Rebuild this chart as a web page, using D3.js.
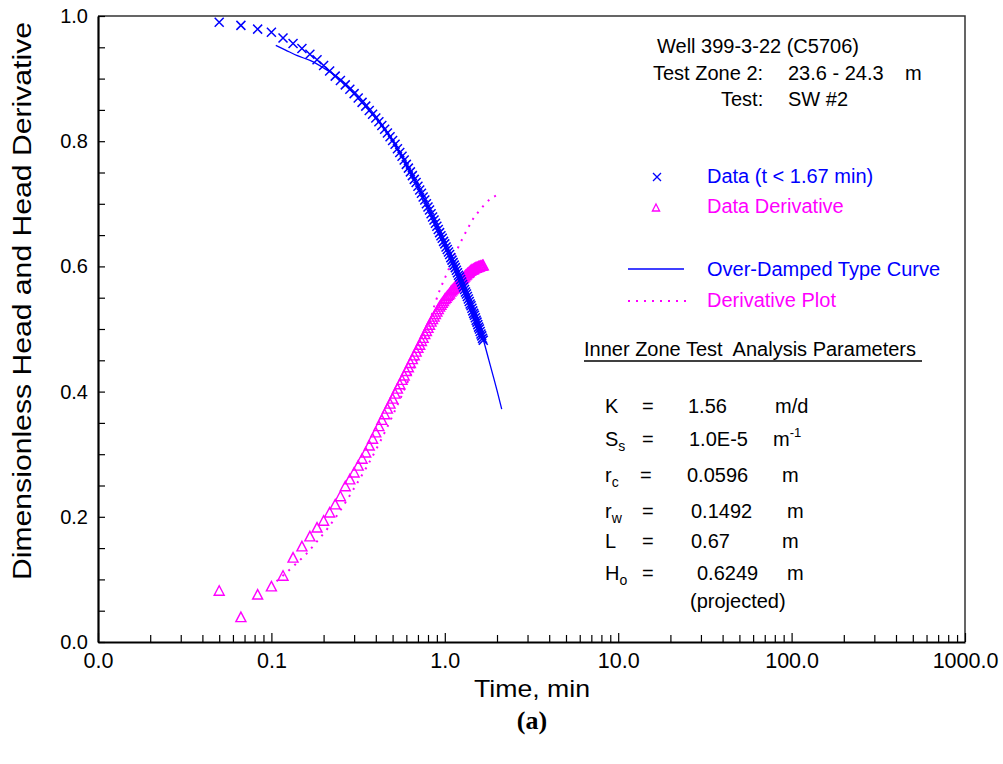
<!DOCTYPE html>
<html><head><meta charset="utf-8">
<script src="https://cdn.jsdelivr.net/npm/d3@7"></script>
<style>
body{margin:0;background:#fff;}
svg{display:block;font-family:"Liberation Sans",Arial,sans-serif;}
</style></head>
<body><svg id="c" width="1003" height="764"></svg>
<script>
// ---- data (time in minutes) ----
const timeMin = [0.05,0.0667,0.0833,0.1,0.1167,0.1333,0.15,0.1667,0.1833,0.2,
0.2167,0.2333,0.25,0.2667,0.2833,0.3,0.3167,0.3333,0.35,0.3667,
0.3833,0.4,0.4167,0.4333,0.45,0.4667,0.4833,0.5,0.5167,0.5333,
0.55,0.5667,0.5833,0.6,0.6167,0.6333,0.65,0.6667,0.6833,0.7,
0.7167,0.7333,0.75,0.7667,0.7833,0.8,0.8167,0.8333,0.85,0.8667,
0.8833,0.9,0.9167,0.9333,0.95,0.9667,0.9833,1.0,1.0167,1.0333,
1.05,1.0667,1.0833,1.1,1.1167,1.1333,1.15,1.1667,1.1833,1.2,
1.2167,1.2333,1.25,1.2667,1.2833,1.3,1.3167,1.3333,1.35,1.3667,
1.3833,1.4,1.4167,1.4333,1.45,1.4667,1.4833,1.5,1.5167,1.5333,
1.55,1.5667,1.5833,1.6,1.6167,1.6333,1.65,1.6667];
const headData = [0.990,0.985,0.979,0.974,0.965,0.956,0.948,0.939,0.930,0.921,
0.912,0.904,0.897,0.890,0.883,0.876,0.869,0.862,0.856,0.849,
0.843,0.837,0.831,0.825,0.819,0.813,0.807,0.801,0.795,0.788,
0.782,0.776,0.770,0.763,0.757,0.751,0.745,0.739,0.734,0.728,
0.722,0.717,0.711,0.706,0.700,0.695,0.690,0.684,0.679,0.674,
0.669,0.664,0.659,0.654,0.649,0.645,0.640,0.636,0.631,0.627,
0.623,0.619,0.614,0.610,0.606,0.602,0.598,0.594,0.590,0.586,
0.583,0.579,0.575,0.571,0.567,0.563,0.559,0.556,0.552,0.548,
0.544,0.540,0.537,0.533,0.529,0.525,0.522,0.518,0.514,0.511,
0.507,0.503,0.500,0.496,0.492,0.489,0.485,0.482];
const derivData = [0.081,0.039,0.075,0.088,0.105,0.134,0.152,0.168,0.182,0.193,
0.206,0.219,0.232,0.248,0.259,0.270,0.281,0.292,0.302,0.313,
0.324,0.334,0.344,0.354,0.363,0.372,0.380,0.388,0.396,0.404,
0.411,0.418,0.425,0.432,0.438,0.445,0.451,0.457,0.463,0.469,
0.474,0.480,0.485,0.491,0.496,0.501,0.506,0.511,0.515,0.519,
0.523,0.527,0.531,0.535,0.538,0.541,0.544,0.547,0.549,0.552,
0.554,0.556,0.559,0.561,0.563,0.565,0.567,0.569,0.571,0.573,
0.575,0.577,0.578,0.580,0.581,0.583,0.585,0.586,0.588,0.589,
0.590,0.592,0.593,0.594,0.594,0.595,0.596,0.597,0.597,0.598,
0.598,0.599,0.599,0.600,0.600,0.600,0.601,0.601];
const typeT = [0.106,0.12,0.14,0.167,0.2,0.25,0.3,0.35,0.4,0.5,0.6,0.7,0.8,0.9,1.0,1.1,1.2,1.3,1.4,1.5,1.67,1.8,1.9,2.0,2.13];
const typeH = [0.953,0.946,0.937,0.929,0.917,0.899,0.879,0.859,0.840,0.801,0.764,0.728,0.695,0.664,0.636,0.610,0.586,0.563,0.540,0.518,0.482,0.449,0.425,0.402,0.372];
const dplotT = [0.107,0.14,0.158,0.181,0.209,0.24,0.269,0.296,0.355,0.427,0.501,0.603,0.708,0.794,0.877,0.938,1.0,1.047,1.12,1.197,1.267,1.384,1.472,1.596,1.706,1.862,2.08];
const dplotV = [0.097,0.126,0.140,0.159,0.180,0.203,0.224,0.243,0.280,0.322,0.362,0.412,0.458,0.498,0.540,0.563,0.581,0.594,0.615,0.631,0.645,0.665,0.678,0.690,0.700,0.709,0.716];
const xTickLabels = ["0.0","0.1","1.0","10.0","100.0","1000.0"];
const xDecades = [0.01,0.1,1,10,100,1000];
const yTickLabels = ["0.0","0.2","0.4","0.6","0.8","1.0"];
const yLabelVals = [0,0.2,0.4,0.6,0.8,1.0];
const wellLines = ["Well 399-3-22 (C5706)"];

const BLUE="#0000ff", MAG="#ff00ff";
const svg = d3.select("#c");
const L=98,R=965,T=16,B=642;
const x = d3.scaleLog().domain([0.01,1000]).range([L,R]);
const y = d3.scaleLinear().domain([0,1]).range([B,T]);

// frame (top/right)
svg.append("path").attr("d",`M${L},${T}H${R}V${B}`).attr("fill","none").attr("stroke","#333").attr("stroke-width",1.5);

// x axis
const xTicks=[];
for(const d of [0.01,0.1,1,10,100]) for(let k=1;k<10;k++) xTicks.push(+(d*k).toPrecision(3));
xTicks.push(1000);
const xAx = d3.axisBottom(x).tickValues(xTicks).tickSizeInner(-7).tickSizeOuter(0).tickPadding(11)
  .tickFormat(d=>{const i=xDecades.findIndex(v=>Math.abs(v-d)<1e-9);return i>=0?xTickLabels[i]:"";});
const gx = svg.append("g").attr("transform",`translate(0,${B})`).call(xAx);
gx.select(".domain").attr("stroke","#000").attr("stroke-width",2.2);
gx.selectAll(".tick line").attr("stroke","#000").attr("stroke-width",1.2)
  .attr("y2",d=>xDecades.some(v=>Math.abs(v-d)<1e-9)?-9:-7);
gx.selectAll(".tick text").attr("font-size",21.5).attr("fill","#000").attr("font-family","Liberation Sans, Arial");

// y axis
const yTicks=[]; for(let i=0;i<=20;i++) yTicks.push(+(i*0.05).toFixed(2));
const yAx = d3.axisLeft(y).tickValues(yTicks).tickSizeInner(-7).tickSizeOuter(0).tickPadding(10)
  .tickFormat(d=>{const i=yLabelVals.findIndex(v=>Math.abs(v-d)<1e-9);return i>=0?yTickLabels[i]:"";});
const gy = svg.append("g").attr("transform",`translate(${L},0)`).call(yAx);
gy.select(".domain").attr("stroke","#000").attr("stroke-width",2.2);
gy.selectAll(".tick line").attr("stroke","#000").attr("stroke-width",1.2);
gy.selectAll(".tick text").attr("font-size",20).attr("fill","#000").attr("font-family","Liberation Sans, Arial");

// axis titles
svg.append("text").attr("transform","translate(31,301) rotate(-90)").attr("text-anchor","middle")
  .attr("font-size",25).attr("textLength",558).attr("lengthAdjust","spacingAndGlyphs").text("Dimensionless Head and Head Derivative");
svg.append("text").attr("x",532).attr("y",697).attr("text-anchor","middle").attr("font-size",24)
  .attr("textLength",116).attr("lengthAdjust","spacingAndGlyphs").text("Time, min");
svg.append("text").attr("x",532).attr("y",729).attr("text-anchor","middle").attr("font-size",26)
  .attr("font-weight","bold").attr("font-family","Liberation Serif, Times New Roman, serif").text("(a)");

// series
const pts = timeMin.map((t,i)=>({t,h:headData[i],d:derivData[i]}));
const line = d3.line().x(d=>x(d[0])).y(d=>y(d[1])).curve(d3.curveMonotoneX);
const xPath="M-4.5,-4.5L4.5,4.5M-4.5,4.5L4.5,-4.5";
const triPath="M0,-5.5L5,4L-5,4Z";

svg.append("g").selectAll("path").data(pts).join("path")
  .attr("transform",d=>`translate(${x(d.t)},${y(d.d)})`).attr("d",triPath)
  .attr("fill","none").attr("stroke",MAG).attr("stroke-width",1.4);
svg.append("path").attr("d",line(dplotT.map((t,i)=>[t,dplotV[i]])))
  .attr("fill","none").attr("stroke",MAG).attr("stroke-width",2).attr("stroke-dasharray","2,6");
svg.append("g").selectAll("path").data(pts).join("path")
  .attr("transform",d=>`translate(${x(d.t)},${y(d.h)})`).attr("d",xPath)
  .attr("fill","none").attr("stroke",BLUE).attr("stroke-width",1.5);
svg.append("path").attr("d",line(typeT.map((t,i)=>[t,typeH[i]])))
  .attr("fill","none").attr("stroke",BLUE).attr("stroke-width",1.3);

// header text
const F=20;
const tx=(xx,yy,s,col,anchor)=>svg.append("text").attr("x",xx).attr("y",yy).attr("font-size",F)
  .attr("fill",col||"#000").attr("text-anchor",anchor||"start").text(s);
tx(657,53,wellLines[0]);
tx(653,80,"Test Zone 2:"); tx(788,80,"23.6 - 24.3"); tx(905,80,"m");
tx(721,106,"Test:"); tx(788,106,"SW #2");

// legend
svg.append("path").attr("transform","translate(657,177)").attr("d","M-4,-4L4,4M-4,4L4,-4")
  .attr("stroke",BLUE).attr("stroke-width",1.3).attr("fill","none");
tx(707,183,"Data (t < 1.67 min)",BLUE);
svg.append("path").attr("transform","translate(656,208)").attr("d","M0,-4L3.6,3L-3.6,3Z")
  .attr("stroke",MAG).attr("stroke-width",1.3).attr("fill","none");
tx(707,213,"Data Derivative",MAG);
svg.append("line").attr("x1",628).attr("x2",684).attr("y1",269).attr("y2",269).attr("stroke",BLUE).attr("stroke-width",1.3);
tx(707,276,"Over-Damped Type Curve",BLUE);
svg.append("line").attr("x1",628).attr("x2",686).attr("y1",301).attr("y2",301).attr("stroke",MAG)
  .attr("stroke-width",2).attr("stroke-dasharray","2,6");
tx(707,307,"Derivative Plot",MAG);

// parameters
tx(584,356,"Inner Zone Test\u00a0 Analysis Parameters");
svg.append("line").attr("x1",584).attr("x2",922).attr("y1",361).attr("y2",361).attr("stroke","#000").attr("stroke-width",1.5);
function sym(xx,yy,main,sub){
  const t=svg.append("text").attr("x",xx).attr("y",yy).attr("font-size",F);
  t.append("tspan").text(main);
  if(sub) t.append("tspan").attr("font-size",14).attr("dy",5).text(sub);
}
sym(605,413,"K"); tx(642,413,"="); tx(688,413,"1.56"); tx(775,413,"m/d");
sym(605,446,"S","s"); tx(642,446,"="); tx(689,446,"1.0E-5");
const mt=svg.append("text").attr("x",773).attr("y",446).attr("font-size",F); mt.append("tspan").text("m");
mt.append("tspan").attr("font-size",13).attr("dy",-9).text("-1");
sym(605,482,"r","c"); tx(640,482,"="); tx(687,482,"0.0596"); tx(782,482,"m");
sym(605,518,"r","w"); tx(642,518,"="); tx(691,518,"0.1492"); tx(787,518,"m");
sym(605,548,"L"); tx(642,548,"="); tx(691,548,"0.67"); tx(782,548,"m");
sym(605,580,"H","o"); tx(642,580,"="); tx(697,580,"0.6249"); tx(787,580,"m");
tx(690,608,"(projected)");
</script></body></html>
